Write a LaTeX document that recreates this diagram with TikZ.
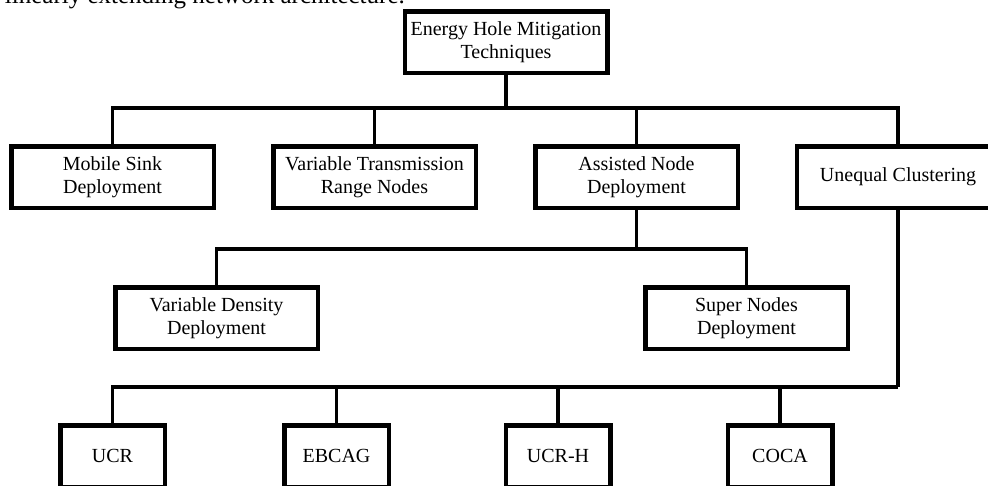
\documentclass[tikz,border=0pt]{standalone}
\usepackage{fontspec}
\setmainfont{Liberation Serif}
\begin{document}
\begin{tikzpicture}[x=1pt,y=-1pt,
  box/.style={draw=black, line width=4.5pt, fill=white, line join=miter,
    inner sep=0pt, align=center, minimum width=202.5pt, minimum height=61.5pt,
    font=\fontsize{20}{23}\selectfont},
  smallbox/.style={box, minimum width=104.5pt},
  conn/.style={draw=black, line width=3.5pt, line join=miter}]
\useasboundingbox (0,0) rectangle (988,485);
\clip (0,0) rectangle (988,485);
\node[anchor=base east, inner sep=0pt, font=\fontsize{25}{30}\selectfont] (caption) at (405,3) {linearly extending network architecture.};
% nodes
\node[box] (top) at (506,42) {Energy Hole Mitigation\\Techniques};
\node[box] (ms) at (112.5,177) {Mobile Sink\\Deployment};
\node[box] (vt) at (374.5,177) {Variable Transmission\\Range Nodes};
\node[box] (an) at (636.5,177) {Assisted Node\\Deployment};
\node[box] (uc) at (898,177) {Unequal Clustering};
\node[box] (vd) at (216.5,318) {Variable Density\\Deployment};
\node[box] (sn) at (746.5,318) {Super Nodes\\Deployment};
\node[smallbox] (ucr) at (112.5,456) {UCR};
\node[smallbox] (eb) at (336.5,456) {EBCAG};
\node[smallbox] (uh) at (558,456) {UCR-H};
\node[smallbox] (coca) at (780,456) {COCA};
% bus coordinates
\coordinate (b1) at (506,108);
\coordinate (b2) at (636.5,249);
\coordinate (b3) at (898,387);
% connectors
\draw[conn] (top.south) -- (b1);
\draw[conn] (ms.north) |- (b1) -| (uc.north);
\draw[conn] (vt.north) -- (vt.north |- b1);
\draw[conn] (an.north) -- (an.north |- b1);
\draw[conn] (an.south) -- (b2);
\draw[conn] (vd.north) |- (b2) -| (sn.north);
\draw[conn] (uc.south) -- (b3);
\draw[conn] (ucr.north) |- (b3);
\draw[conn] (eb.north) -- (eb.north |- b3);
\draw[conn] (uh.north) -- (uh.north |- b3);
\draw[conn] (coca.north) -- (coca.north |- b3);
\end{tikzpicture}
\end{document}
